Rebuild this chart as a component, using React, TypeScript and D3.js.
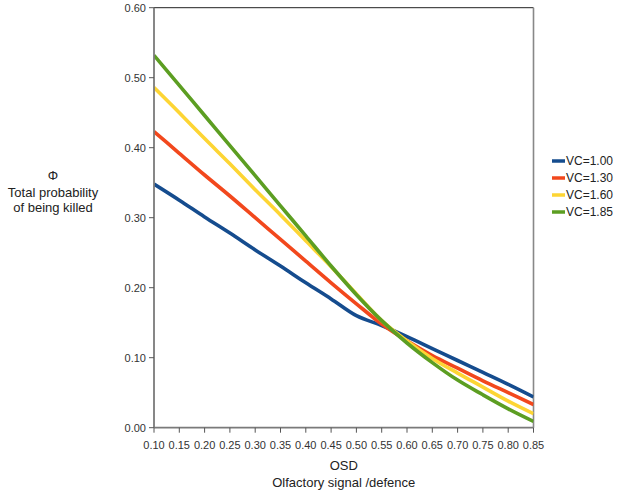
import React from "react";
import * as d3 from "d3";

const osd = [0.10, 0.15, 0.20, 0.25, 0.30, 0.35, 0.40, 0.45, 0.50, 0.55, 0.60, 0.65, 0.70, 0.75, 0.80, 0.85];
const vc100 = [0.348, 0.325, 0.301, 0.278, 0.254, 0.231, 0.207, 0.184, 0.160, 0.146, 0.130, 0.113, 0.096, 0.079, 0.062, 0.044];
const vc130 = [0.423, 0.392, 0.361, 0.331, 0.300, 0.269, 0.238, 0.207, 0.177, 0.148, 0.124, 0.103, 0.085, 0.067, 0.050, 0.033];
const vc160 = [0.486, 0.450, 0.413, 0.377, 0.340, 0.304, 0.267, 0.230, 0.191, 0.153, 0.124, 0.099, 0.078, 0.058, 0.038, 0.020];
const vc185 = [0.532, 0.489, 0.446, 0.403, 0.360, 0.317, 0.274, 0.231, 0.190, 0.153, 0.121, 0.093, 0.068, 0.047, 0.027, 0.009];

const seriesNames = ["VC=1.00", "VC=1.30", "VC=1.60", "VC=1.85"];
const seriesValues = [vc100, vc130, vc160, vc185];
const seriesColors = ["#154c8e", "#f2481d", "#fdd534", "#5c9e22"];

const xTicks = [0.10, 0.15, 0.20, 0.25, 0.30, 0.35, 0.40, 0.45, 0.50, 0.55, 0.60, 0.65, 0.70, 0.75, 0.80, 0.85];
const yTicks = [0.0, 0.1, 0.2, 0.3, 0.4, 0.5, 0.6];

const W = 618;
const H = 493;
const L = 154;
const R = 533.5;
const T = 7.7;
const B = 427.7;

export default function App() {
  const x = d3.scaleLinear().domain([0.1, 0.85]).range([L, R]);
  const y = d3.scaleLinear().domain([0, 0.6]).range([B, T]);
  const line = d3
    .line<number>()
    .x((_, i) => x(osd[i]))
    .y((d) => y(d))
    .curve(d3.curveMonotoneX);
  const font = "'Liberation Sans', Arial, sans-serif";
  return (
    <svg
      width={W}
      height={H}
      style={{ position: "absolute", left: 0, top: 0, background: "#fff" }}
      fontFamily={font}
    >
      <rect x={0} y={0} width={W} height={H} fill="#fff" />
      <defs>
        <clipPath id="plot">
          <rect x={L} y={T} width={R - L} height={B - T} />
        </clipPath>
      </defs>
      {/* frame */}
      <line x1={L} x2={R} y1={T} y2={T} stroke="#222" strokeWidth={1} />
      <line x1={R} x2={R} y1={T} y2={B} stroke="#888" strokeWidth={1.6} />
      {/* series */}
      <g clipPath="url(#plot)">
        {seriesValues.map((vals, k) => (
          <path
            key={k}
            d={line(vals) || ""}
            fill="none"
            stroke={seriesColors[k]}
            strokeWidth={3.6}
            strokeLinejoin="round"
          />
        ))}
      </g>
      {/* axes */}
      <line x1={L} x2={L} y1={T} y2={B} stroke="#7a7a7a" strokeWidth={1.8} />
      <line x1={L} x2={R} y1={B} y2={B} stroke="#7a7a7a" strokeWidth={1.8} />
      {yTicks.map((t) => (
        <g key={"y" + t}>
          <line x1={L - 5} x2={L} y1={y(t)} y2={y(t)} stroke="#555" strokeWidth={1} />
          <text
            x={L - 8}
            y={y(t)}
            dy="0.35em"
            textAnchor="end"
            fontSize={11}
            fill="#333"
          >
            {t.toFixed(2)}
          </text>
        </g>
      ))}
      {xTicks.map((t) => (
        <g key={"x" + t}>
          <line x1={x(t)} x2={x(t)} y1={B} y2={B + 5} stroke="#555" strokeWidth={1} />
          <text
            x={x(t)}
            y={B + 21}
            textAnchor="middle"
            fontSize={11}
            fill="#333"
          >
            {t.toFixed(2)}
          </text>
        </g>
      ))}
      {/* axis titles */}
      <text x={(L + R) / 2} y={470} textAnchor="middle" fontSize={13} fill="#222">
        OSD
      </text>
      <text x={(L + R) / 2} y={487} textAnchor="middle" fontSize={13} fill="#222">
        Olfactory signal /defence
      </text>
      <text x={53} y={180} textAnchor="middle" fontSize={13} fill="#222">
        Φ
      </text>
      <text x={53} y={197} textAnchor="middle" fontSize={13} fill="#222">
        Total probability
      </text>
      <text x={53} y={212} textAnchor="middle" fontSize={13} fill="#222">
        of being killed
      </text>
      {/* legend */}
      {seriesNames.map((n, k) => (
        <g key={n} transform={`translate(552, ${161 + k * 17})`}>
          <line x1={0} x2={13} y1={0} y2={0} stroke={seriesColors[k]} strokeWidth={3.5} />
          <text x={14} y={0} dy="0.35em" fontSize={12} fill="#222">
            {n}
          </text>
        </g>
      ))}
    </svg>
  );
}
